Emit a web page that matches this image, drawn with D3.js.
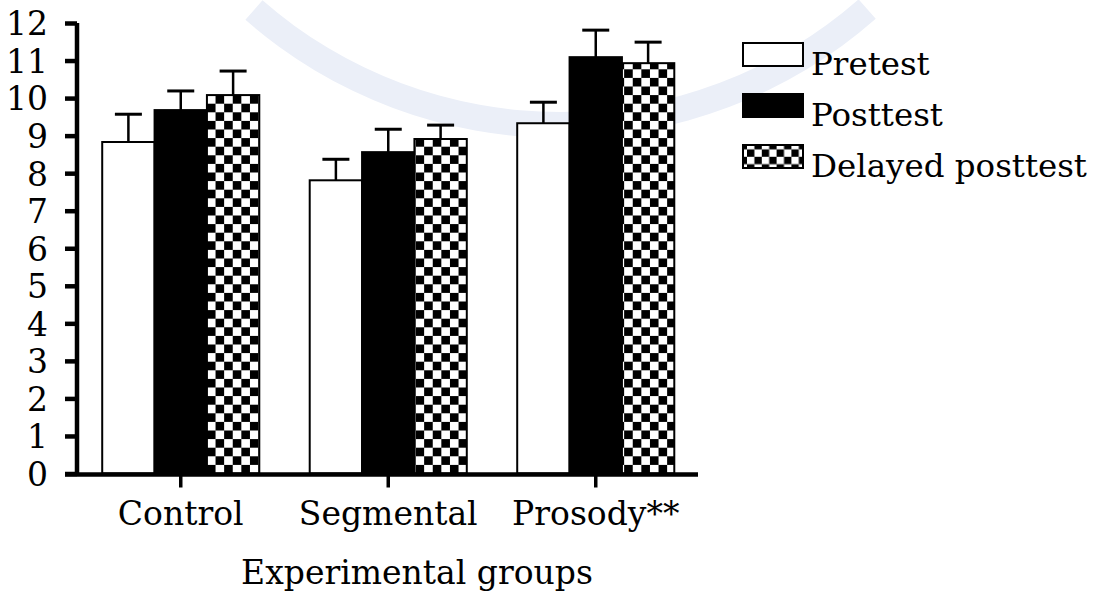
<!DOCTYPE html>
<html>
<head>
<meta charset="utf-8">
<script src="https://cdn.jsdelivr.net/npm/d3@7"></script>
<style>
  body { margin: 0; background: #fff; }
  svg text { font-family: "DejaVu Serif", "Liberation Serif", serif; fill: #000; }
</style>
</head>
<body>
<div id="chart"></div>
<script>
// data
const groups = ["Control", "Segmental", "Prosody**"];
const series = ["Pretest", "Posttest", "Delayed posttest"];
const pretest = [8.83, 7.81, 9.33];
const posttest = [9.68, 8.56, 11.09];
const delayed = [10.08, 8.91, 10.93];
const pretestErr = [0.74, 0.56, 0.56];
const posttestErr = [0.51, 0.61, 0.72];
const delayedErr = [0.64, 0.37, 0.56];
const yTicks = [0, 1, 2, 3, 4, 5, 6, 7, 8, 9, 10, 11, 12];

const width = 1094, height = 592;
const fs = 33;

const svg = d3.select("#chart").append("svg")
  .attr("width", width)
  .attr("height", height);

const defs = svg.append("defs");

// faint watermark arc in the background (crescent: two offset circles)
const outerR = 478, innerR = 452;
const wm = svg.append("g").attr("transform", "translate(560,-340)");
defs.append("clipPath").attr("id", "wmClip")
  .append("rect").attr("x", -300).attr("y", 340).attr("width", 600).attr("height", 200);
wm.append("path")
  .attr("d", d3.arc()({innerRadius: innerR, outerRadius: outerR, startAngle: 2.42, endAngle: 3.86}))
  .attr("fill", "#ebeff8");

const x = d3.scaleBand()
  .domain(groups)
  .range([77, 699.5])
  .paddingInner(0.243)
  .paddingOuter(0.1215);

const xs = d3.scaleBand()
  .domain(series)
  .range([0, x.bandwidth()]);

const y = d3.scaleLinear()
  .domain([0, 12])
  .range([473.5, 23]);

const rows = groups.map((g, i) => [
  {group: g, key: series[0], value: pretest[i], err: pretestErr[i]},
  {group: g, key: series[1], value: posttest[i], err: posttestErr[i]},
  {group: g, key: series[2], value: delayed[i], err: delayedErr[i]}
]);

// checker pattern, one per group so it lines up with the bar edge
function checker(id, x0, y0, s) {
  const p = defs.append("pattern")
    .attr("id", id)
    .attr("patternUnits", "userSpaceOnUse")
    .attr("x", x0).attr("y", y0)
    .attr("width", s * 2).attr("height", s * 2);
  p.append("rect").attr("width", s * 2).attr("height", s * 2).attr("fill", "#fff");
  p.append("rect").attr("x", s).attr("y", 0).attr("width", s).attr("height", s).attr("fill", "#000");
  p.append("rect").attr("x", 0).attr("y", s).attr("width", s).attr("height", s).attr("fill", "#000");
}

groups.forEach((g, i) => {
  checker("chk" + i, x(g) + xs(series[2]) + 1, y(0), 8.6);
});

function fillFor(d, i) {
  if (d.key === series[0]) return "#fff";
  if (d.key === series[1]) return "#000";
  return "url(#chk" + i + ")";
}

const grp = svg.selectAll("g.grp")
  .data(rows)
  .enter()
  .append("g")
  .attr("class", "grp")
  .attr("transform", d => `translate(${x(d[0].group)},0)`);

// error bars first (only the upper whisker shows)
grp.each(function(d) {
  const g = d3.select(this);
  g.selectAll("line.err")
    .data(d)
    .enter()
    .append("line")
    .attr("x1", e => xs(e.key) + xs.bandwidth() / 2)
    .attr("x2", e => xs(e.key) + xs.bandwidth() / 2)
    .attr("y1", e => y(e.value))
    .attr("y2", e => y(e.value + e.err))
    .attr("stroke", "#000")
    .attr("stroke-width", 2.5);
  g.selectAll("line.cap")
    .data(d)
    .enter()
    .append("line")
    .attr("x1", e => xs(e.key) + xs.bandwidth() / 2 - 13.5)
    .attr("x2", e => xs(e.key) + xs.bandwidth() / 2 + 13.5)
    .attr("y1", e => y(e.value + e.err))
    .attr("y2", e => y(e.value + e.err))
    .attr("stroke", "#000")
    .attr("stroke-width", 3);
});

grp.each(function(d, i) {
  d3.select(this).selectAll("rect")
    .data(d)
    .enter()
    .append("rect")
    .attr("x", e => xs(e.key))
    .attr("y", e => y(e.value))
    .attr("width", xs.bandwidth())
    .attr("height", e => y(0) - y(e.value))
    .attr("fill", e => fillFor(e, i))
    .attr("stroke", "#000")
    .attr("stroke-width", 2);
});

// axes
const yAxis = svg.append("g")
  .attr("transform", "translate(77,0)")
  .call(d3.axisLeft(y).tickValues(yTicks).tickSize(12).tickPadding(17).tickSizeOuter(0));
yAxis.select(".domain").attr("stroke-width", 4.5).attr("d", `M0,${y(12)}V${y(0) + 2}`);
yAxis.selectAll(".tick line").attr("stroke-width", 4.5);
yAxis.selectAll(".tick text")
  .attr("font-size", fs)
  .attr("font-family", "DejaVu Serif")
  .attr("dy", "0.36em");

const xAxis = svg.append("g")
  .attr("transform", `translate(0,${y(0) + 1})`)
  .call(d3.axisBottom(x).tickSize(13).tickPadding(14).tickSizeOuter(0));
xAxis.select(".domain").attr("stroke-width", 4.5).attr("d", "M65,0H698");
xAxis.selectAll(".tick line").attr("stroke-width", 3.5);
xAxis.selectAll(".tick text")
  .attr("font-size", fs)
  .attr("font-family", "DejaVu Serif");

svg.append("text")
  .attr("x", 417)
  .attr("y", 584)
  .attr("text-anchor", "middle")
  .attr("font-size", fs)
  .text("Experimental groups");

// legend
checker("chkLeg", 744, 145, 7.4);
const legend = svg.append("g").attr("transform", "translate(743,43)");
const li = legend.selectAll("g")
  .data(series)
  .enter()
  .append("g")
  .attr("transform", (d, i) => `translate(0,${i * 51})`);
li.append("rect")
  .attr("width", 60)
  .attr("height", 23)
  .attr("fill", (d, i) => i === 0 ? "#fff" : i === 1 ? "#000" : "url(#chkLeg)")
  .attr("stroke", "#000")
  .attr("stroke-width", 2);
li.append("text")
  .attr("x", 68)
  .attr("y", 32)
  .attr("font-size", 32.5)
  .text(d => d);
</script>
</body>
</html>
